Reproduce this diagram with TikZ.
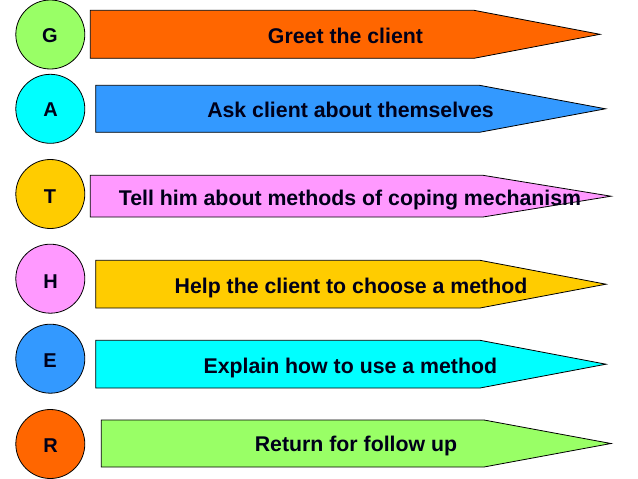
\documentclass[tikz,border=0pt]{standalone}
\usepackage{fontspec}
\setmainfont{Liberation Sans}
\definecolor{lorange}{HTML}{FF6600}
\definecolor{lblue}{HTML}{3399FF}
\definecolor{lpink}{HTML}{FF99FF}
\definecolor{lgold}{HTML}{FFCC00}
\definecolor{lcyan}{HTML}{00FFFF}
\definecolor{lgreen}{HTML}{99FF66}
\tikzset{
  letter/.style={circle, draw=black, line width=0.8pt, minimum size=69pt, inner sep=0pt},
  lettertext/.style={inner sep=0pt, anchor=base, font=\fontsize{20}{24}\selectfont\bfseries, text=black!90!blue},
  tag/.style={draw=black, line width=0.8pt},
  tagtext/.style={inner sep=0pt, anchor=base, font=\fontsize{21.3}{24}\selectfont\bfseries, text=black!90!blue}
}
\begin{document}
\begin{tikzpicture}[x=1pt, y=-1pt]
\useasboundingbox (0,0) rectangle (638,479);
% letters
\node[letter, fill=lgreen] (G) at (50.3,34.5) {};
\node[letter, fill=lcyan] (A) at (50.3,108.8) {};
\node[letter, fill=lgold] (T) at (50.3,194) {};
\node[letter, fill=lpink] (H) at (50.3,278.7) {};
\node[letter, fill=lblue] (E) at (50.3,358.7) {};
\node[letter, fill=lorange] (R) at (50.3,444) {};
\node[lettertext] (Gl) at (50,42.5) {G};
\node[lettertext] (Al) at (50.5,116.5) {A};
\node[lettertext] (Tl) at (50,203) {T};
\node[lettertext] (Hl) at (50.5,288) {H};
\node[lettertext] (El) at (50,367) {E};
\node[lettertext] (Rl) at (50.5,452.5) {R};
% tags
\draw[tag, fill=lorange] (90.3,10.3) -- (474,10.3) -- (600,34.3) -- (474,58.3) -- (90.3,58.3) -- cycle;
\draw[tag, fill=lblue] (95.7,85.3) -- (479.5,85.3) -- (605.5,108.8) -- (479.5,132.3) -- (95.7,132.3) -- cycle;
\draw[tag, fill=lpink] (90.3,175.3) -- (483,175.3) -- (611,196.2) -- (483,217) -- (90.3,217) -- cycle;
\draw[tag, fill=lgold] (95.7,260.3) -- (480,260.3) -- (606,284.2) -- (480,308) -- (95.7,308) -- cycle;
\draw[tag, fill=lcyan] (95.7,340.3) -- (480,340.3) -- (606,364.2) -- (480,388) -- (95.7,388) -- cycle;
\draw[tag, fill=lgreen] (101.3,420) -- (484,420) -- (611,443.5) -- (484,467) -- (101.3,467) -- cycle;
% texts
\node[tagtext] (Gtext) at (345.5,43) {Greet the client};
\node[tagtext] (Atext) at (350.5,117) {Ask client about themselves};
\node[tagtext] (Ttext) at (350,205) {Tell him about methods of coping mechanism};
\node[tagtext] (Htext) at (351,293) {Help the client to choose a method};
\node[tagtext] (Etext) at (350.3,373) {Explain how to use a method};
\node[tagtext] (Rtext) at (356,451) {Return for follow up};
\end{tikzpicture}
\end{document}
